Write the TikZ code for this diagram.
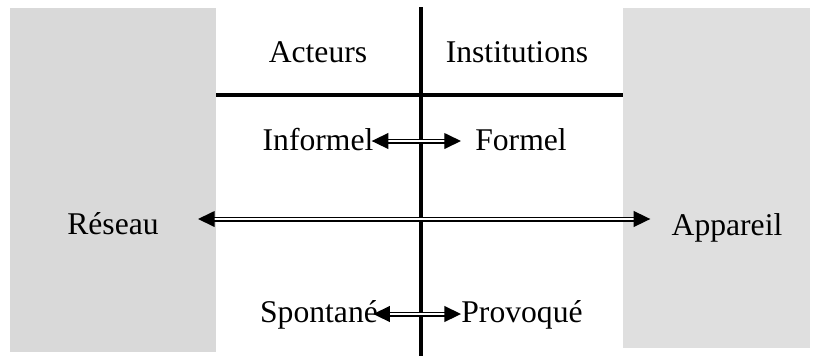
\documentclass[tikz,border=0pt]{standalone}
\usepackage{fontspec}
\setmainfont{Liberation Serif}
\usepackage{xcolor}
\usepackage{tikz}
\usetikzlibrary{calc,arrows.meta}
\definecolor{ink}{HTML}{000000}
\definecolor{shadeL}{HTML}{D9D9D9}
\definecolor{shadeR}{HTML}{DFDFDF}
\tikzset{
  axis/.style={draw=ink, line width=1.9pt},
  dbl/.style={draw=ink, double=white, double distance=1.25pt, line width=0.8pt,
    {Triangle[length=9.5pt,width=9pt]}-{Triangle[length=9.5pt,width=9pt]}},
  lab/.style={text=ink, font=\fontsize{18}{21}\selectfont, inner sep=0pt, anchor=base},
}
\begin{document}
\begin{tikzpicture}[x=0.02cm, y=-0.02cm]
  \useasboundingbox (0,0) rectangle (818,356);
  % grey side columns
  \fill[shadeL] (10,8) rectangle (216,352);
  \fill[shadeR] (623,8) rectangle (810,348);
  % the cross
  \coordinate (vtop) at (421,7);
  \coordinate (vbot) at (421,356);
  \coordinate (hl) at (216,95);
  \coordinate (hr) at (623,95);
  \draw[axis] (vtop) -- (vbot);
  \draw[axis] (hl) -- (hr);
  % headings
  \node[lab] (acteurs) at (318,62) {Acteurs};
  \node[lab] (institutions) at (517,62) {Institutions};
  % pairs
  \node[lab] (informel) at (318,150) {Informel};
  \node[lab] (formel) at (521,150) {Formel};
  \node[lab] (reseau) at (113,234) {Réseau};
  \node[lab] (appareil) at (727,235) {Appareil};
  \node[lab] (spontane) at (319,322) {Spontané};
  \node[lab] (provoque) at (522,322) {Provoqué};
  \draw[dbl] ($(informel.base east)+(-2,-9)$) -- ($(formel.base west)+(-14,-9)$);
  \draw[dbl] ($(reseau.base east)+(39,-15)$) -- ($(appareil.base west)+(-21,-16)$);
  \draw[dbl] ($(spontane.base east)+(-5,-8)$) -- ($(provoque.base west)+(0,-8)$);
\end{tikzpicture}
\end{document}
